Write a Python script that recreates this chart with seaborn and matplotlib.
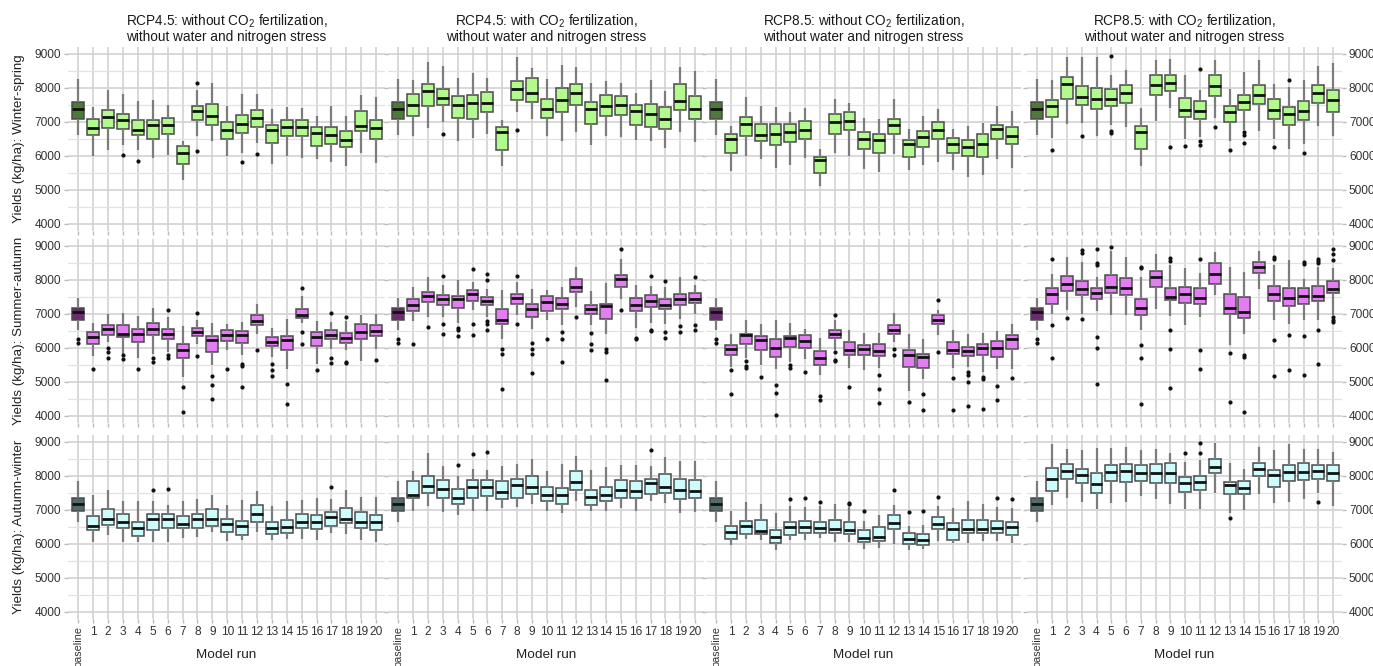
import matplotlib
matplotlib.use("Agg")
import matplotlib.pyplot as plt
import seaborn as sns
import pandas as pd
from matplotlib.ticker import FixedLocator

# ---------------- data (box stats: low whisker, Q1, median, Q3, high whisker) ----------------
runs = ["baseline"] + [str(i) for i in range(1, 21)]
seasons = ["Winter-spring", "Summer-autumn", "Autumn-winter"]
scenario_titles = [
    "RCP4.5: without CO$_2$ fertilization,\nwithout water and nitrogen stress",
    "RCP4.5: with CO$_2$ fertilization,\nwithout water and nitrogen stress",
    "RCP8.5: without CO$_2$ fertilization,\nwithout water and nitrogen stress",
    "RCP8.5: with CO$_2$ fertilization,\nwithout water and nitrogen stress",
]

base_ws = (6620, 7085, 7380, 7585, 8270)
base_ws_out = []
base_sa = (6520, 6815, 7060, 7175, 7480)
base_sa_out = [6255, 6155]
base_aw = (6645, 6980, 7180, 7350, 7860)
base_aw_out = []

ws_45_no = [(5985,6620,6820,7085,7430),(6180,6820,7145,7340,7950),(6310,6800,7045,7230,7830),
            (6180,6620,6770,7065,7605),(5935,6495,6900,7065,7655),(6030,6640,6900,7115,7505),
            (5300,5760,6100,6280,6425),(6575,7065,7330,7480,7950),(6425,6900,7165,7535,8145),
            (5985,6495,6750,7000,7480),(6080,6670,6945,7210,7830),(6380,6840,7125,7360,7830),
            (5770,6380,6750,6900,7390),(5985,6575,6850,7065,7440),(5935,6595,6850,7065,7410),
            (5905,6280,6670,6840,7165),(5835,6360,6620,6850,7480),(5690,6260,6475,6720,7185),
            (6080,6720,6870,7330,7800),(5805,6495,6820,7045,7730)]
ws_45_no_out = {3: [6030], 4: [5855], 8: [8145, 6130], 11: [5825], 12: [6055]}

ws_45_co2 = [(6575,7180,7485,7815,8235),(6820,7455,7915,8110,8775),(6985,7505,7700,7965,8650),
             (6445,7130,7505,7765,8285),(6525,7090,7550,7795,8430),(6650,7280,7570,7895,8285),
             (5690,6160,6710,6850,7065),(7280,7640,7975,8215,8920),(7080,7590,7865,8285,8580),
             (6575,7130,7385,7680,8255),(6445,7290,7650,7990,8675),(6690,7495,7865,8110,8630),
             (6330,6945,7385,7590,8140),(6575,7160,7475,7785,8210),(6545,7210,7505,7750,8160),
             (6475,6895,7325,7485,7865),(6445,6840,7240,7530,8235),(6230,6790,7080,7435,7915),
             (6690,7355,7620,8120,8610),(6405,7080,7375,7765,8510)]
ws_45_co2_out = {3: [6650], 8: [6770]}

ws_85_no = [(5565,6085,6495,6650,6885),(5985,6595,6945,7140,7730),(5910,6425,6610,6935,7475),
            (5645,6310,6650,6935,7435),(5740,6405,6690,6935,7305),(5935,6505,6770,7015,7405),
            (5125,5500,5870,5965,6200),(6085,6640,6985,7230,7670),(6005,6770,7015,7290,7570),
            (5625,6200,6505,6690,7130),(5520,6085,6475,6640,7080),(6055,6640,6915,7100,7670),
            (5575,5965,6350,6455,6790),(5720,6250,6545,6740,7160),(5820,6505,6750,6995,7385),
            (5595,6085,6360,6525,6790),(5370,6005,6250,6475,6885),(5450,5965,6360,6650,6965),
            (5920,6505,6800,6915,7475),(5645,6360,6595,6840,7325)]
ws_85_no_out = {}

ws_85_co2 = [(6525,7135,7480,7655,8240),(6945,7685,8125,8320,8910),(6965,7485,7720,8045,8910),
             (6575,7390,7685,7995,8910),(6915,7480,7685,7970,8390),(6840,7555,7850,8095,8540),
             (5690,6210,6690,6890,7410),(7015,7780,8075,8390,8835),(7410,7900,8145,8370,8865),
             (6505,7140,7365,7700,8390),(6555,7095,7320,7605,7950),(7110,7770,8065,8370,8835),
             (6425,6995,7280,7480,7970),(6760,7360,7585,7800,8460),(6720,7535,7800,8075,8835),
             (6495,7095,7360,7675,8115),(6200,6915,7230,7425,8015),(6350,7045,7310,7625,8245),
             (6870,7570,7850,8095,8655),(6580,7300,7645,7930,8735)]
ws_85_co2_out = {1: [6180], 3: [6575], 5: [8930, 6720, 6670], 9: [6250], 10: [6300],
                 11: [8560, 6425, 6310], 12: [6840], 13: [6160], 14: [6690, 6620, 6375],
                 16: [6260], 17: [8245], 18: [6100]}

sa_45_no = [(5765,6110,6325,6470,6735),(6175,6390,6550,6665,6990),(5835,6325,6420,6665,7030),
            (5690,6175,6420,6550,6940),(5835,6370,6550,6745,7175),(5880,6275,6400,6570,6910),
            (5145,5705,5930,6125,6645),(6125,6355,6470,6590,6815),(5490,5880,6245,6345,6735),
            (5930,6195,6370,6520,6695),(5785,6145,6370,6500,6765),(6420,6665,6795,6980,7305),
            (5735,6050,6175,6325,6590),(5390,5930,6245,6345,6865),(6745,6880,6960,7155,7520),
            (5540,6060,6325,6470,6795),(5980,6255,6390,6540,6765),(5930,6155,6295,6440,6800),
            (5610,6255,6470,6715,6960),(5980,6345,6500,6665,7010)]
sa_45_no_out = {1: [5390], 2: [6000, 5865, 5690], 3: [5785, 5665], 4: [5390], 5: [5705, 5590],
                6: [7110, 5805, 5705], 7: [4855, 4120], 8: [7040, 5755], 9: [5175, 4900, 4510],
                10: [5370], 11: [5520, 5470, 4835], 12: [5950], 13: [5540, 5345, 5175],
                14: [4930, 4345], 15: [7775, 6470, 6125], 16: [5345], 17: [7040, 5705, 5570],
                18: [6910, 5590, 5550], 20: [5635]}

sa_45_co2 = [(6785,7090,7275,7430,7795),(6910,7355,7520,7645,8090),(6910,7275,7430,7570,7845),
             (6745,7175,7450,7530,7990),(7110,7385,7600,7715,7940),(6910,7255,7375,7490,7745),
             (6275,6695,6815,7135,7695),(6960,7305,7480,7600,7950),(6570,6910,7155,7305,7745),
             (6815,7090,7355,7530,7695),(6685,7135,7305,7470,7795),(7205,7645,7795,8040,8380),
             (6685,6990,7135,7255,7665),(6420,6865,7225,7305,7920),(7450,7795,8040,8155,8610),
             (6590,7080,7255,7470,7845),(6745,7205,7375,7550,7825),(6715,7135,7275,7430,7800),
             (6865,7255,7450,7600,8090),(6990,7335,7430,7625,7845)]
sa_45_co2_out = {1: [6125], 2: [6620], 3: [8110, 6695, 6420], 4: [6600, 6540, 6355],
                 5: [8315, 6715, 6370], 6: [8185, 8010, 6780, 6700, 6520], 7: [5980, 5815, 4805],
                 8: [8120, 6695], 9: [6145, 5980, 5815, 5265], 10: [6275], 11: [6470, 6275, 5590],
                 12: [6910], 13: [6440, 6125, 5930], 14: [5980, 5865, 5070], 15: [8920, 7110],
                 16: [6300, 6260], 17: [8120, 6540, 6500], 18: [7980, 6470, 6295], 19: [6645, 6470],
                 20: [8090, 6665, 6520]}

sa_85_no = [(5450,5805,5980,6100,6420),(5705,6125,6370,6420,6835),(5490,5950,6225,6345,6715),
            (5390,5735,6000,6275,6815),(5590,6030,6305,6355,6745),(5685,6000,6195,6390,6570),
            (5215,5510,5705,5900,6295),(5930,6295,6420,6540,6815),(5410,5805,5950,6175,6520),
            (5345,5785,5980,6080,6450),(5410,5765,5910,6125,6440),(6175,6420,6540,6685,7030),
            (4725,5440,5785,5930,6400),(5080,5420,5735,5835,6275),(6390,6715,6835,6960,7110),
            (5410,5835,5950,6175,6540),(5440,5765,5900,6030,6420),(5295,5805,6000,6125,6440),
            (5390,5735,6000,6195,6500),(5370,5960,6255,6370,6715)]
sa_85_no_out = {1: [5345, 4630], 2: [5610, 5460, 5400], 3: [5145], 4: [4900, 4685, 4020],
                5: [5500, 5420], 6: [5295], 7: [4580, 4480], 8: [6960, 5880, 5640, 5600],
                9: [4855], 11: [5195, 4805, 4365], 12: [5980, 5805], 13: [4410], 14: [4630, 4185],
                15: [7420, 5880], 16: [5100, 4185], 17: [5295, 5195, 5000, 4295],
                18: [5150, 5080, 4215], 19: [4875, 4460], 20: [5100]}

sa_85_co2 = [(6990,7305,7600,7755,8170),(7110,7665,7895,8110,8670),(7010,7570,7745,7970,8540),
             (7080,7450,7615,7775,8090),(6960,7630,7795,8140,8855),(6960,7560,7765,8050,8680),
             (6520,6960,7185,7430,8090),(7150,7785,8075,8275,8775),(6930,7400,7500,7765,8450),
             (6685,7335,7580,7805,8340),(6910,7305,7480,7755,8210),(7560,7875,8170,8490,8815),
             (6080,6990,7185,7600,8370),(6420,6885,7060,7500,8220),(7725,8215,8370,8540,8855),
             (6815,7370,7575,7820,8450),(6715,7235,7480,7765,8590),(6815,7305,7530,7765,8040),
             (6815,7370,7530,7815,8390),(6960,7630,7745,7970,8340)]
sa_85_co2_out = {1: [8610, 6665, 5715], 2: [6885], 3: [8880, 8790, 6840],
                 4: [8920, 8500, 8450, 6325, 6010, 4950], 5: [8980], 7: [8390, 8340, 6080, 5705, 4335],
                 9: [8650, 8570, 6540, 5980, 4830], 11: [8620, 5930, 5365], 13: [5855, 4400],
                 14: [5780, 5740, 4120], 16: [8680, 8620, 6225, 5175], 17: [6370, 5345],
                 18: [8530, 8470, 6355, 5215], 19: [8620, 8560, 8490, 6520, 5520],
                 20: [8920, 8750, 8580, 6900, 6830, 6760]}

aw_45_no = [(6065,6410,6530,6825,7445),(6265,6560,6735,7020,7590),(6065,6460,6640,6875,7270),
            (6065,6245,6460,6655,7270),(6065,6410,6725,6875,7250),(6065,6460,6735,6875,7150),
            (6165,6460,6580,6825,7250),(6195,6460,6735,6875,7325),(6360,6530,6735,7020,7445),
            (6085,6360,6590,6725,7150),(6115,6265,6530,6685,7300),(6360,6655,6885,7150,7545),
            (6115,6295,6460,6630,7130),(6135,6335,6510,6705,7250),(6145,6460,6640,6875,7300),
            (6115,6430,6630,6855,7345),(6315,6530,6805,6925,7325),(6295,6610,6735,7050,7575),
            (6115,6460,6640,6950,7395),(6065,6410,6630,6855,7395)]
aw_45_no_out = {5: [7590], 6: [7610], 17: [7670]}

aw_45_co2 = [(6980,7345,7445,7860,8155),(7120,7495,7690,7985,8675),(6935,7345,7610,7870,8300),
             (6855,7180,7345,7610,8005),(6955,7365,7660,7870,8215),(6955,7415,7670,7890,8165),
             (7070,7315,7515,7840,8300),(7080,7365,7740,7915,8360),(7180,7475,7670,8005,8500),
             (6970,7275,7425,7670,8155),(6905,7180,7445,7640,8350),(7250,7590,7810,8135,8595),
             (6970,7150,7395,7590,8165),(6970,7250,7425,7670,8260),(7050,7345,7590,7890,8330),
             (6955,7365,7570,7840,8330),(7250,7465,7790,7905,8300),(7200,7495,7670,8065,8545),
             (6905,7325,7590,7905,8430),(6925,7345,7545,7870,8430)]
aw_45_co2_out = {4: [8330], 5: [8655], 6: [8695], 17: [8775]}

aw_85_no = [(5970,6135,6360,6540,6970),(6135,6295,6540,6680,7220),(6115,6295,6380,6690,7180),
            (5820,6020,6195,6410,6905),(6115,6265,6490,6630,7120),(6115,6315,6510,6660,7080),
            (6185,6315,6460,6640,7120),(6065,6315,6430,6705,7170),(6065,6280,6410,6630,7100),
            (5840,6065,6165,6410,6680),(5870,6085,6195,6490,6855),(6000,6440,6610,6855,7150),
            (5820,5990,6135,6335,6530),(5840,5970,6115,6295,6560),(6095,6430,6585,6785,7120),
            (6020,6115,6430,6610,7050),(6020,6335,6440,6705,7250),(6095,6335,6440,6705,7180),
            (6095,6315,6460,6680,7080),(6020,6265,6490,6640,7050)]
aw_85_no_out = {5: [7325], 6: [7365], 7: [7230], 9: [7200, 7160], 10: [6980], 12: [7575],
                13: [6925], 14: [6980], 15: [7395], 19: [7345], 20: [7315]}

aw_85_co2 = [(7135,7555,7900,8225,8930),(7360,7900,8145,8340,8785),(7240,7780,8020,8195,8765),
             (7015,7505,7750,8075,8835),(7210,7850,8125,8310,8835),(7240,7830,8145,8360,8860),
             (7410,7850,8095,8320,8765),(7310,7780,8095,8360,8805),(7165,7780,8095,8370,8665),
             (7015,7535,7780,7970,8410),(7015,7575,7820,8000,8470),(7505,8095,8265,8490,8980),
             (6915,7455,7720,7830,8370),(6995,7455,7655,7850,8195),(7455,8000,8195,8390,8860),
             (7195,7685,8030,8175,8765),(7230,7850,8115,8320,8930),(7310,7880,8115,8390,8805),
             (7505,7920,8145,8320,8805),(7115,7850,8095,8320,8705)]
aw_85_co2_out = {10: [8665], 11: [8960, 8685], 13: [6770], 19: [7230]}

# ---------------- styling ----------------
fills = ["#b3fa8e", "#e27ef2", "#ccfcfc"]
base_fills = ["#4d7a3b", "#6c2d6f", "#4f6d6d"]

panels = [
    [(base_ws, base_ws_out, ws_45_no, ws_45_no_out), (base_ws, base_ws_out, ws_45_co2, ws_45_co2_out),
     (base_ws, base_ws_out, ws_85_no, ws_85_no_out), (base_ws, base_ws_out, ws_85_co2, ws_85_co2_out)],
    [(base_sa, base_sa_out, sa_45_no, sa_45_no_out), (base_sa, base_sa_out, sa_45_co2, sa_45_co2_out),
     (base_sa, base_sa_out, sa_85_no, sa_85_no_out), (base_sa, base_sa_out, sa_85_co2, sa_85_co2_out)],
    [(base_aw, base_aw_out, aw_45_no, aw_45_no_out), (base_aw, base_aw_out, aw_45_co2, aw_45_co2_out),
     (base_aw, base_aw_out, aw_85_no, aw_85_no_out), (base_aw, base_aw_out, aw_85_co2, aw_85_co2_out)],
]

sns.set_theme(style="white")
plt.rcParams['font.family'] = ['Liberation Sans', 'DejaVu Sans']
plt.rcParams['mathtext.fontset'] = 'custom'
plt.rcParams['mathtext.rm'] = 'Liberation Sans'
plt.rcParams['mathtext.it'] = 'Liberation Sans:italic'
plt.rcParams['mathtext.bf'] = 'Liberation Sans:bold'

W, H = 1373, 666
fig = plt.figure(figsize=(W / 100, H / 100), dpi=100)
col_px = [(68, 385), (388, 704), (706, 1021), (1027, 1342)]
row_px = [(47, 231), (239, 423), (435, 619)]

for r in range(3):
    for c in range(4):
        x0, x1 = col_px[c]
        y0, y1 = row_px[r]
        ax = fig.add_axes([x0 / W, 1 - y1 / H, (x1 - x0) / W, (y1 - y0) / H])
        base, base_out, stats, outs = panels[r][c]
        recs = []
        for run, st in zip(runs, [base] + stats):
            for v in st:
                recs.append((run, v))
        df = pd.DataFrame(recs, columns=["run", "yield"])
        orec = [("baseline", v) for v in base_out]
        for k, vals in outs.items():
            for v in vals:
                orec.append((str(k), v))
        odf = pd.DataFrame(orec, columns=["run", "yield"])
        pal = {run: (base_fills[r] if run == "baseline" else fills[r]) for run in runs}
        sns.boxplot(data=df, x="run", y="yield", order=runs, hue="run", hue_order=runs,
                    palette=pal, legend=False, whis=(0, 100), showfliers=False, width=0.8,
                    linewidth=1.1, linecolor="#4a4a4a", showcaps=False, saturation=1,
                    medianprops=dict(color="#111111", linewidth=2.0),
                    whiskerprops=dict(color="#7d7d7d", linewidth=1.6),
                    ax=ax)
        if len(odf):
            sns.stripplot(data=odf, x="run", y="yield", order=runs, jitter=False,
                          color="#111111", size=3.0, ax=ax, zorder=5)
        ax.set_xlim(-0.7, 20.6)
        ax.set_ylim(3790, 9205)
        ax.set_xticks(range(21))
        ax.set_xticklabels(runs)
        ax.set_yticks(range(4000, 9001, 1000))
        ax.yaxis.set_minor_locator(FixedLocator(list(range(4500, 9000, 1000))))
        ax.grid(which="major", color="#d2d2d2", linewidth=1.2)
        ax.grid(which="minor", axis="y", color="#e2e2e2", linewidth=0.9)
        ax.set_axisbelow(True)
        for s in ax.spines.values():
            s.set_visible(False)
        ax.tick_params(which="major", length=3, width=1, color="#bbbbbb",
                       labelsize=8.6, labelcolor="#333333", pad=2,
                       bottom=True, left=True)
        ax.tick_params(which="minor", length=0)
        ax.set_xlabel("")
        ax.set_ylabel("")
        if c == 0:
            ax.set_ylabel("Yields (kg/ha): " + seasons[r], fontsize=9.6, color="#222222")
            ax.yaxis.set_label_coords(-0.135, 0.5)
        else:
            ax.tick_params(axis="y", labelleft=False)
        if c == 3:
            ax.tick_params(axis="y", right=True, labelright=True)
        if r == 0:
            ax.set_title(scenario_titles[c], fontsize=9.8, color="#1a1a1a", pad=4, linespacing=1.05)
        if r == 2:
            for t in ax.get_xticklabels():
                if t.get_text() == "baseline":
                    t.set_rotation(90)
                    t.set_fontsize(7.8)
            ax.set_xlabel("Model run", fontsize=9.7, color="#222222")
            ax.xaxis.set_label_coords(0.5, -0.165)
        else:
            ax.tick_params(axis="x", labelbottom=False)

fig.savefig("out.png", dpi=100)
